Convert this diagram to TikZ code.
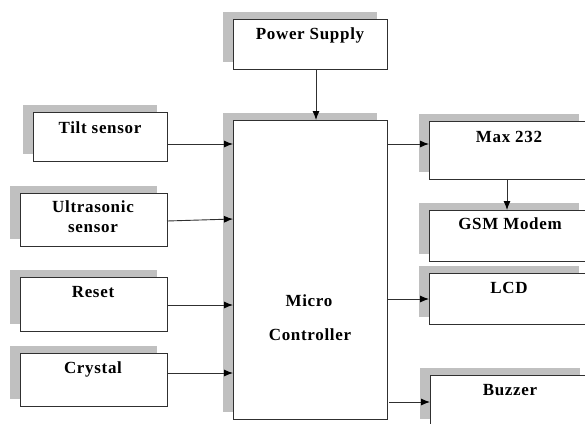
\documentclass[tikz,border=0pt]{standalone}
\usepackage{fontspec}
\setmainfont{Liberation Serif}[LetterSpace=4]
\usetikzlibrary{arrows.meta,shadows}
\definecolor{shadowgray}{HTML}{C0C0C0}
\definecolor{edgegray}{HTML}{303030}
\tikzset{
  blk/.style={draw=edgegray, line width=0.9pt, fill=white, inner sep=0pt, outer sep=0pt,
    anchor=north west,
    general shadow={shadow xshift=-10pt, shadow yshift=7pt, fill=shadowgray}},
  lbl/.style={anchor=base, inner sep=0pt, font=\bfseries\fontsize{17pt}{20pt}\selectfont, align=center},
  conn/.style={draw=edgegray, line width=0.9pt, -{Latex[length=9pt,width=7pt,color=black]}}
}
\begin{document}
\begin{tikzpicture}[x=1pt,y=-1pt]
\useasboundingbox (0,0) rectangle (585,423);
\clip (0,0) rectangle (585,423);
% blocks
\node[blk, minimum width=154pt, minimum height=50pt]  (ps)   at (233,19)  {};
\node[blk, minimum width=134pt, minimum height=49pt]  (tilt) at (33,112)  {};
\node[blk, minimum width=147pt, minimum height=53pt]  (us)   at (20,193)  {};
\node[blk, minimum width=147pt, minimum height=54pt]  (rst)  at (20,277)  {};
\node[blk, minimum width=147pt, minimum height=53pt]  (xtal) at (20,353)  {};
\node[blk, minimum width=154pt, minimum height=299pt] (mc)   at (233,120) {};
\node[blk, minimum width=160pt, minimum height=58pt]  (max)  at (429,121) {};
\node[blk, minimum width=160pt, minimum height=51pt]  (gsm)  at (429,210) {};
\node[blk, minimum width=160pt, minimum height=51pt]  (lcd)  at (429,273) {};
\node[blk, minimum width=160pt, minimum height=51pt]  (buz)  at (430,375) {};
% labels
\node[lbl] (psl)   at (310,39)  {Power Supply};
\node[lbl] (tiltl) at (100,133) {Tilt sensor};
\node[lbl] (usl1)  at (93,212)  {Ultrasonic};
\node[lbl] (usl2)  at (93,232)  {sensor};
\node[lbl] (rstl)  at (93,297)  {Reset};
\node[lbl] (xtall) at (93,373)  {Crystal};
\node[lbl] (mcl1)  at (309,306) {Micro};
\node[lbl] (mcl2)  at (310,340) {Controller};
\node[lbl] (maxl)  at (509,142) {Max 232};
\node[lbl] (gsml)  at (510,229) {GSM Modem};
\node[lbl] (lcdl)  at (509,293) {LCD};
\node[lbl] (buzl)  at (510,395) {Buzzer};
% connectors
\draw[conn] (ps.south -| 316,0) -- (mc.north -| 316,0);
\draw[conn] (tilt.east |- 0,144) -- (mc.west |- 0,144);
\draw[conn] (us.east |- 0,221) -- (mc.west |- 0,219);
\draw[conn] (rst.east |- 0,305) -- (mc.west |- 0,305);
\draw[conn] (xtal.east |- 0,373) -- (mc.west |- 0,373);
\draw[conn] (mc.east |- 0,144) -- (max.west |- 0,144);
\draw[conn] (max.south -| 507,0) -- (gsm.north -| 507,0);
\draw[conn] (mc.east |- 0,299) -- (lcd.west |- 0,299);
\draw[conn] (mc.east |- 0,402) ++(2,0) -- (buz.west |- 0,402);
\end{tikzpicture}
\end{document}
